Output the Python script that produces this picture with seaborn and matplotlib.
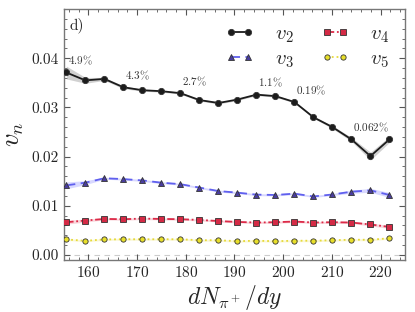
import matplotlib
matplotlib.use('Agg')
import matplotlib.pyplot as plt
import seaborn as sns
import numpy as np
from matplotlib.ticker import AutoMinorLocator, MultipleLocator

# dN/dy bin centres
dndy = [155.5, 159.4, 163.3, 167.2, 171.1, 175.0, 178.9, 182.8, 186.7,
        190.6, 194.5, 198.4, 202.3, 206.2, 210.1, 214.0, 217.9, 221.8]

v2 = [0.0371, 0.0355, 0.0358, 0.0341, 0.0335, 0.0333, 0.0329, 0.0315, 0.0309,
      0.0316, 0.0326, 0.0323, 0.0311, 0.0280, 0.0260, 0.0235, 0.0201, 0.0235]
v2_err = [0.0013, 0.0006, 0.0003, 0.0003, 0.0002, 0.0002, 0.0002, 0.0002, 0.0002,
          0.0002, 0.0002, 0.0002, 0.0002, 0.0002, 0.0003, 0.0004, 0.0008, 0.0006]

v3 = [0.01415, 0.0147, 0.0156, 0.01543, 0.01516, 0.0147, 0.0144, 0.0137, 0.0130,
      0.01267, 0.01227, 0.0122, 0.01247, 0.0119, 0.0123, 0.01287, 0.01314, 0.0122]
v3_err = [0.0007, 0.0004, 0.0002, 0.0002, 0.0002, 0.0002, 0.0002, 0.0002, 0.0002,
          0.0002, 0.0002, 0.0002, 0.0002, 0.0002, 0.0002, 0.0003, 0.0004, 0.0005]

v4 = [0.00666, 0.0070, 0.00733, 0.00727, 0.0074, 0.00733, 0.00727, 0.00713, 0.0069,
      0.00672, 0.0066, 0.00666, 0.0068, 0.0066, 0.00666, 0.0066, 0.0062, 0.0057]
v4_err = [0.0004, 0.0003, 0.0002, 0.0002, 0.0002, 0.0002, 0.0002, 0.0002, 0.0002,
          0.0002, 0.0002, 0.0002, 0.0002, 0.0002, 0.0002, 0.0002, 0.0003, 0.0003]

v5 = [0.00316, 0.00288, 0.00316, 0.0032, 0.0032, 0.0032, 0.0032, 0.0030, 0.0030,
      0.0028, 0.0029, 0.0028, 0.0029, 0.0029, 0.0030, 0.0031, 0.0031, 0.0034]
v5_err = [0.0002] * 18

# percentage labels on the v2 curve (index of point, text)
pct_idx = [0, 3, 6, 10, 12, 15]
pct_txt = [r'$4.9\%$', r'$4.3\%$', r'$2.7\%$', r'$1.1\%$', r'$0.19\%$', r'$0.062\%$']

sns.set_style('ticks')
plt.rcParams['font.family'] = ['serif']
plt.rcParams['font.serif'] = ['cmr10', 'DejaVu Serif']
plt.rcParams['mathtext.fontset'] = 'cm'
plt.rcParams['axes.formatter.use_mathtext'] = True

fig = plt.figure(figsize=(4.15, 3.12), dpi=100)
ax = fig.add_axes([0.154, 0.167, 0.822, 0.804])

series = [
    (v2, v2_err, r'$v_2$', '#1c1c1c', '#1c1c1c', '#9a9a9a', 'o', '-', 4.5),
    (v3, v3_err, r'$v_3$', '#6060ee', '#4a3d9e', '#aaaaff', '^', (0, (5, 3)), 4.5),
    (v4, v4_err, r'$v_4$', '#dc2a48', '#d42a45', '#f2a0ad', 's', (0, (4, 1.5, 1, 1.5)), 4.5),
    (v5, v5_err, r'$v_5$', '#e6d93a', '#e8df2a', '#f5efa0', 'o', ':', 3.8),
]

for vals, err, lab, lc, mc, bc, mk, ls, ms in series:
    lo = np.array(vals) - np.array(err)
    hi = np.array(vals) + np.array(err)
    ax.fill_between(dndy, lo, hi, color=bc, alpha=0.45, lw=0, zorder=1)
    sns.lineplot(x=dndy, y=vals, ax=ax, color=lc, linestyle=ls, lw=1.3,
                 marker=mk, markersize=ms, markerfacecolor=mc,
                 markeredgecolor='#333333', markeredgewidth=0.6,
                 label=lab, zorder=3)

ax.axhline(0, color='#cccccc', lw=0.8, ls=(0, (5, 4)), zorder=0)

for i, t in zip(pct_idx, pct_txt):
    ax.text(dndy[i] + 0.4, v2[i] + 0.0011, t, fontsize=8, color='#333333',
            ha='left', va='bottom')

ax.text(0.015, 0.965, 'd)', transform=ax.transAxes, fontsize=11,
        ha='left', va='top')

ax.set_xlim(155, 225)
ax.set_ylim(-0.001, 0.05)
ax.xaxis.set_major_locator(MultipleLocator(10))
ax.yaxis.set_major_locator(MultipleLocator(0.01))
ax.xaxis.set_minor_locator(AutoMinorLocator(5))
ax.yaxis.set_minor_locator(AutoMinorLocator(5))
ax.tick_params(which='both', direction='in', top=True, right=True,
               color='#555555', labelsize=11)
ax.tick_params(which='major', length=4)
ax.tick_params(which='minor', length=2)
for s in ax.spines.values():
    s.set_color('#777777')
    s.set_linewidth(1.0)

ax.set_yticks([0.0, 0.01, 0.02, 0.03, 0.04])
ax.set_yticklabels(['0.00', '0.01', '0.02', '0.03', '0.04'])

ax.set_xlabel(r'$dN_{\pi^+}/dy$', fontsize=17, labelpad=2)
ax.set_ylabel(r'$v_n$', fontsize=19, labelpad=4)

ax.legend(ncol=2, loc='upper right', frameon=False, fontsize=15, numpoints=2,
          handlelength=1.4, columnspacing=1.3, handletextpad=1.0,
          labelspacing=0.25, borderaxespad=0.35)

fig.savefig('out.png', dpi=100)
